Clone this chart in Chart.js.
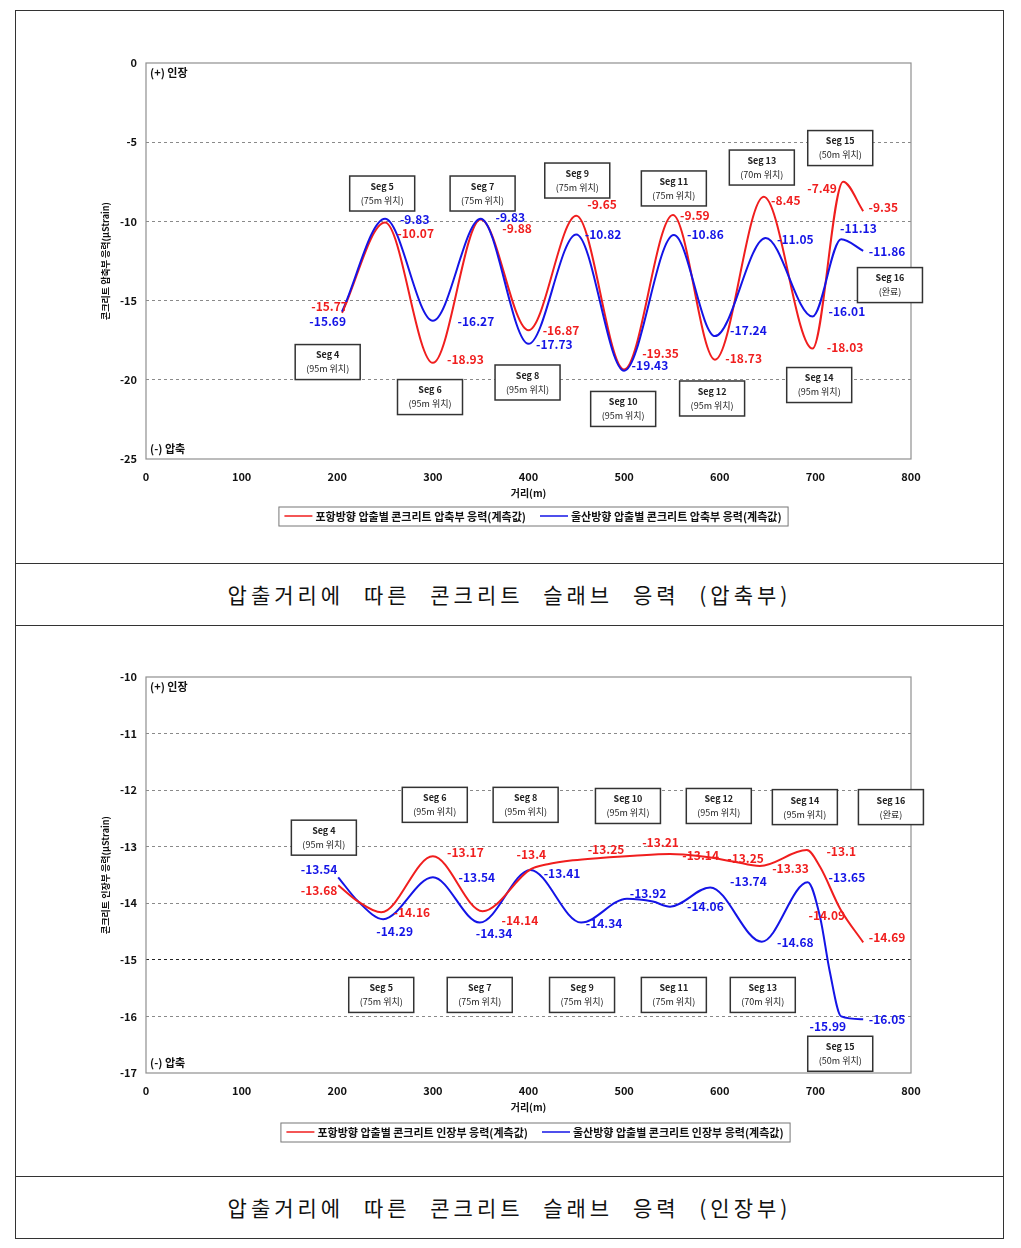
<!DOCTYPE html>
<html><head><meta charset="utf-8">
<script src="https://cdn.jsdelivr.net/npm/chart.js@4.4.1/dist/chart.umd.min.js"></script>
<style>
body{margin:0;background:#fff;width:1021px;height:1248px;position:relative;overflow:hidden;font-family:'Noto Sans CJK KR',sans-serif;}
.frame{position:absolute;left:15px;top:10px;width:989px;height:1229px;box-sizing:border-box;border:1px solid #333;}
.hl{position:absolute;left:15px;width:989px;height:1px;background:#333;}
canvas{position:absolute;}
.cap{position:absolute;left:16px;width:987px;text-align:center;font-size:21px;letter-spacing:4px;word-spacing:11px;color:#111;}
</style></head>
<body>
<div class="frame"></div>
<div class="hl" style="top:563px"></div>
<div class="hl" style="top:625px"></div>
<div class="hl" style="top:1176px"></div>
<canvas id="c1" width="986" height="551" style="left:16px;top:11px;width:986px;height:551px"></canvas>
<div class="cap" style="top:564px;height:61px;line-height:61px">압출거리에 따른 콘크리트 슬래브 응력 (압축부)</div>
<canvas id="c2" width="986" height="549" style="left:16px;top:626px;width:986px;height:549px"></canvas>
<div class="cap" style="top:1177px;height:61px;line-height:61px">압출거리에 따른 콘크리트 슬래브 응력 (인장부)</div>
<script>
// ---------- DATA ----------
const xTicks = [0, 100, 200, 300, 400, 500, 600, 700, 800];
const topYTicks = [0, -5, -10, -15, -20, -25];
const botYTicks = [-10, -11, -12, -13, -14, -15, -16, -17];

const topLegend = ['포항방향 압출별 콘크리트 압축부 응력(계측값)', '울산방향 압출별 콘크리트 압축부 응력(계측값)'];
const botLegend = ['포항방향 압출별 콘크리트 인장부 응력(계측값)', '울산방향 압출별 콘크리트 인장부 응력(계측값)'];

// Top chart (compression)
const topRedX = [205, 250, 300, 350, 400, 450, 500, 551, 595, 646, 697, 729, 750];
const topRedY = [-15.77, -10.07, -18.93, -9.88, -16.87, -9.65, -19.35, -9.59, -18.73, -8.45, -18.03, -7.49, -9.35];
const topBlueX = [205, 250, 300, 350, 400, 450, 500, 552, 595, 648, 697, 727, 750];
const topBlueY = [-15.69, -9.83, -16.27, -9.83, -17.73, -10.82, -19.43, -10.86, -17.24, -11.05, -16.01, -11.13, -11.86];

// Bottom chart (tension)
const botRedX = [201, 222, 246, 300, 352, 402, 420, 447, 475, 510, 548, 580, 614, 642, 691, 705, 726, 750];
const botRedY = [-13.68, -13.97, -14.16, -13.17, -14.14, -13.40, -13.31, -13.24, -13.20, -13.16, -13.13, -13.17, -13.26, -13.34, -13.06, -13.36, -14.10, -14.69];
const botBlueX = [201, 222, 248, 300, 349, 402, 455, 503, 530, 548, 590, 644, 692, 705, 715, 727, 750];
const botBlueY = [-13.54, -13.97, -14.28, -13.54, -14.34, -13.41, -14.34, -13.92, -13.97, -14.06, -13.72, -14.68, -13.63, -14.25, -15.20, -16.00, -16.05];

// Value labels [x, y, text]
const topRedLabels = [[192,-15.40,'-15.77'],[282,-10.73,'-10.07'],[334,-18.69,'-18.93'],[388,-10.42,'-9.88'],[434,-16.86,'-16.87'],[477,-8.90,'-9.65'],[538,-18.31,'-19.35'],[574,-9.60,'-9.59'],[625,-18.62,'-18.73'],[669,-8.65,'-8.45'],[707,-7.89,'-7.49'],[771,-9.09,'-9.35'],[731,-17.93,'-18.03']];
const topBlueLabels = [[190,-16.29,'-15.69'],[281,-9.85,'-9.83'],[381,-9.72,'-9.83'],[345,-16.29,'-16.27'],[427,-17.74,'-17.73'],[478,-10.80,'-10.82'],[527,-19.07,'-19.43'],[585,-10.80,'-10.86'],[630,-16.86,'-17.24'],[679,-11.11,'-11.05'],[745,-10.42,'-11.13'],[775,-11.87,'-11.86'],[733,-15.66,'-16.01']];
const botRedLabels = [[181,-13.78,'-13.68'],[278,-14.17,'-14.16'],[334,-13.11,'-13.17'],[391,-14.30,'-14.14'],[403,-13.13,'-13.4'],[481,-13.04,'-13.25'],[538,-12.92,'-13.21'],[580,-13.15,'-13.14'],[627,-13.20,'-13.25'],[674,-13.39,'-13.33'],[727,-13.09,'-13.1'],[712,-14.22,'-14.09'],[775,-14.61,'-14.69']];
const botBlueLabels = [[181,-13.41,'-13.54'],[260,-14.49,'-14.29'],[346,-13.54,'-13.54'],[364,-14.54,'-14.34'],[435,-13.47,'-13.41'],[479,-14.35,'-14.34'],[525,-13.82,'-13.92'],[585,-14.06,'-14.06'],[630,-13.62,'-13.74'],[679,-14.70,'-14.68'],[733,-13.55,'-13.65'],[713,-16.17,'-15.99'],[775,-16.06,'-16.05']];

// Segment boxes [x, y, title, sub]
const topSegs = [[190,-18.88,'Seg 4','(95m 위치)'],[247,-8.24,'Seg 5','(75m 위치)'],[297,-21.09,'Seg 6','(95m 위치)'],[352,-8.24,'Seg 7','(75m 위치)'],[399,-20.17,'Seg 8','(95m 위치)'],[451,-7.42,'Seg 9','(75m 위치)'],[499,-21.84,'Seg 10','(95m 위치)'],[552,-7.92,'Seg 11','(75m 위치)'],[592,-21.18,'Seg 12','(95m 위치)'],[644,-6.60,'Seg 13','(70m 위치)'],[704,-20.33,'Seg 14','(95m 위치)'],[726,-5.37,'Seg 15','(50m 위치)'],[778,-14.02,'Seg 16','(완료)']];
const botSegs = [[186,-12.84,'Seg 4','(95m 위치)'],[246,-15.62,'Seg 5','(75m 위치)'],[302,-12.26,'Seg 6','(95m 위치)'],[349,-15.62,'Seg 7','(75m 위치)'],[397,-12.26,'Seg 8','(95m 위치)'],[456,-15.62,'Seg 9','(75m 위치)'],[504,-12.28,'Seg 10','(95m 위치)'],[552,-15.62,'Seg 11','(75m 위치)'],[599,-12.28,'Seg 12','(95m 위치)'],[645,-15.62,'Seg 13','(70m 위치)'],[689,-12.30,'Seg 14','(95m 위치)'],[726,-16.66,'Seg 15','(50m 위치)'],[779,-12.30,'Seg 16','(완료)']];

// ---------- RENDERING ----------
const FONT = "'Noto Sans CJK KR', 'Noto Sans', sans-serif";
Chart.defaults.font.family = FONT;
const RED = '#f01e1e', BLUE = '#1414e6';

const overlay = {
  id: 'overlay',
  beforeDatasetsDraw(chart) {
    const {ctx, chartArea: a} = chart;
    ctx.save();
    ctx.strokeStyle = '#8f8f8f'; ctx.lineWidth = 1.2;
    ctx.strokeRect(a.left, a.top, a.right - a.left, a.bottom - a.top);
    ctx.font = 'bold 11px ' + FONT; ctx.fillStyle = '#111';
    ctx.textAlign = 'left'; ctx.textBaseline = 'middle';
    ctx.fillText('(+) 인장', a.left + 4, a.top + 10);
    ctx.fillText('(-) 압축', a.left + 4, a.bottom - 10);
    ctx.restore();
  },
  afterDraw(chart) {
    const o = chart.options.plugins.overlay;
    const {ctx, chartArea: a, scales: {x, y}} = chart;
    ctx.save();
    ctx.textAlign = 'center'; ctx.textBaseline = 'middle';
    ctx.font = 'bold 12px ' + FONT;
    o.labels.forEach(g => {
      ctx.fillStyle = g.color;
      g.items.forEach(([lx, ly, t]) => ctx.fillText(t, x.getPixelForValue(lx), y.getPixelForValue(ly)));
    });
    // segment boxes
    o.segs.forEach(([sx, sy, t1, t2]) => {
      const cx = x.getPixelForValue(sx), cy = y.getPixelForValue(sy);
      const w = 65, h = 35;
      ctx.fillStyle = '#fff'; ctx.fillRect(cx - w/2, cy - h/2, w, h);
      ctx.strokeStyle = '#333'; ctx.lineWidth = 1.5;
      ctx.strokeRect(cx - w/2, cy - h/2, w, h);
      ctx.fillStyle = '#222'; ctx.font = 'bold 9px ' + FONT;
      ctx.fillText(t1, cx, cy - 7);
      ctx.font = '9px ' + FONT;
      ctx.fillText(t2, cx, cy + 7);
    });
    // legend
    ctx.font = 'bold 11px ' + FONT;
    const ds = chart.data.datasets;
    const lineLen = 28, gapT = 3, gapI = 14, pad = 6;
    const widths = ds.map(d => ctx.measureText(d.label).width);
    const total = widths.reduce((s, w) => s + lineLen + gapT + w, 0) + gapI * (ds.length - 1) + pad * 2;
    const lx0 = o.legendX - total / 2, ly = a.bottom + o.legendDy, lh = 19;
    ctx.fillStyle = '#fff'; ctx.fillRect(lx0, ly - lh/2, total, lh);
    ctx.strokeStyle = '#777'; ctx.lineWidth = 1;
    ctx.strokeRect(lx0 + 0.5, ly - lh/2 + 0.5, total, lh);
    let cx = lx0 + pad;
    ctx.textAlign = 'left';
    ds.forEach((d, i) => {
      ctx.strokeStyle = d.borderColor; ctx.lineWidth = 1.5;
      ctx.beginPath(); ctx.moveTo(cx, ly); ctx.lineTo(cx + lineLen, ly); ctx.stroke();
      cx += lineLen + gapT;
      ctx.fillStyle = '#111'; ctx.fillText(d.label, cx, ly + 0.5);
      cx += widths[i] + gapI;
    });
    ctx.restore();
  }
};

function pts(xs, ys) { return xs.map((v, i) => ({x: v, y: ys[i]})); }

function makeChart(id, cfg) {
  return new Chart(document.getElementById(id), {
    type: 'line',
    data: {
      datasets: [
        {label: cfg.legend[0], data: pts(cfg.redX, cfg.redY), borderColor: RED, order: cfg.redOrder},
        {label: cfg.legend[1], data: pts(cfg.blueX, cfg.blueY), borderColor: BLUE, order: cfg.blueOrder}
      ].map(d => Object.assign(d, {borderWidth: 2, pointRadius: 0, fill: false, cubicInterpolationMode: 'monotone'}))
    },
    options: {
      responsive: false, animation: false,
      layout: {padding: {left: 80, top: cfg.padTop, right: 91, bottom: cfg.padBottom}},
      plugins: {
        legend: {display: false}, tooltip: {enabled: false},
        overlay: {labels: [{color: RED, items: cfg.redLabels}, {color: BLUE, items: cfg.blueLabels}], segs: cfg.segs, legendX: cfg.legendX, legendDy: cfg.legendDy}
      },
      scales: {
        x: {
          type: 'linear', min: 0, max: 800,
          afterBuildTicks: s => { s.ticks = xTicks.map(v => ({value: v})); },
          afterFit: s => { s.height = 44; },
          grid: {display: false, drawTicks: false},
          border: {display: false},
          ticks: {padding: 11, color: '#111', font: {size: 11, weight: 'bold'}},
          title: {display: true, text: '거리(m)', color: '#111', font: {size: 10, weight: 'bold'}, padding: {top: 0, bottom: 4}}
        },
        y: {
          min: cfg.yMin, max: cfg.yMax,
          afterBuildTicks: s => { s.ticks = cfg.yTicks.map(v => ({value: v})); },
          afterFit: s => { s.width = 50; },
          grid: {
            drawTicks: false,
            color: c => (c.tick.value === cfg.yMin || c.tick.value === cfg.yMax) ? 'rgba(0,0,0,0)' : (c.tick.value === cfg.darkLine ? '#222' : '#8a8a8a'),
            lineWidth: 1
          },
          border: {display: false, dash: [3, 3]},
          ticks: {padding: 9, color: '#111', font: {size: 11, weight: 'bold'}},
          title: {display: true, text: cfg.yTitle, color: '#111', font: {size: 9, weight: 'bold'}, padding: {top: 4, bottom: 4}}
        }
      }
    },
    plugins: [overlay]
  });
}

makeChart('c1', {
  legend: topLegend, redX: topRedX, redY: topRedY, blueX: topBlueX, blueY: topBlueY,
  redOrder: 2, blueOrder: 1,
  redLabels: topRedLabels, blueLabels: topBlueLabels, segs: topSegs,
  yMin: -25, yMax: 0, yTicks: topYTicks, darkLine: null,
  yTitle: '콘크리트 압축부 응력(μStrain)', padTop: 52, padBottom: 59, legendX: 517, legendDy: 57
});
makeChart('c2', {
  legend: botLegend, redX: botRedX, redY: botRedY, blueX: botBlueX, blueY: botBlueY,
  redOrder: 1, blueOrder: 2,
  redLabels: botRedLabels, blueLabels: botBlueLabels, segs: botSegs,
  yMin: -17, yMax: -10, yTicks: botYTicks, darkLine: -15,
  yTitle: '콘크리트 인장부 응력(μStrain)', padTop: 51, padBottom: 58, legendX: 519, legendDy: 59
});
</script>
</body></html>
